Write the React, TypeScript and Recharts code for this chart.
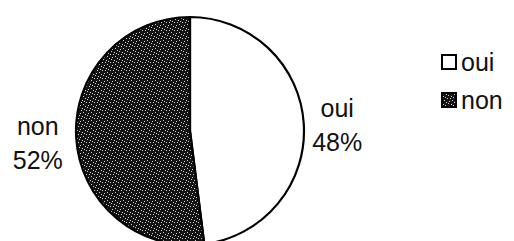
import { PieChart, Pie, Cell, Legend } from "recharts";

const categories = ["oui", "non"];
const shares = [48, 52];
const fills = ["#ffffff", "url(#speckle)"];

const chartData = categories.map((name, i) => ({ name, value: shares[i] }));

const RAD = Math.PI / 180;
const FONT = "'Liberation Sans', Arial, sans-serif";

// white specks on the dark slice, fixed positions inside an 8x8 tile
const specks = [
  [0, 1], [2, 4], [3, 0], [5, 2], [6, 6], [1, 6], [4, 5], [7, 3]
];

function renderLabel(props: any) {
  const { cx, cy, midAngle, outerRadius, name, percent } = props;
  const r = outerRadius + 36;
  const x = cx - 2.5 + r * Math.cos(-midAngle * RAD);
  const y = cy + r * Math.sin(-midAngle * RAD);
  return (
    <text x={x} y={y} textAnchor="middle" fontFamily={FONT} fontSize={25} fill="#111">
      <tspan x={x} y={y - 5}>{name}</tspan>
      <tspan x={x} y={y + 29}>{Math.round(percent * 100)}%</tspan>
    </text>
  );
}

// legend keeps the series order (recharts would sort it by name)
function LegendBox() {
  return (
    <div style={{ fontFamily: FONT, fontSize: 25, color: "#111" }}>
      {categories.map((name, i) => (
        <div key={name} style={{ display: "flex", alignItems: "center", height: 38 }}>
          <svg width={16} height={16} style={{ marginRight: 4 }}>
            <rect x={1} y={1} width={14} height={14} fill={fills[i]} stroke="#000" strokeWidth={2} />
          </svg>
          <span>{name}</span>
        </div>
      ))}
    </div>
  );
}

export default function App() {
  return (
    <div style={{ position: "absolute", left: 0, top: 0, background: "#fff" }}>
      <svg width={0} height={0} style={{ position: "absolute" }}>
        <defs>
          <pattern id="speckle" width={8} height={8} patternUnits="userSpaceOnUse">
            <rect width={8} height={8} fill="#141414" />
            {specks.map(([sx, sy], i) => (
              <rect key={i} x={sx} y={sy} width={1} height={1} fill="#cfcfcf" />
            ))}
          </pattern>
        </defs>
      </svg>
      <PieChart width={514} height={241}>
        <Pie
          data={chartData}
          dataKey="value"
          nameKey="name"
          cx={185}
          cy={126}
          outerRadius={114}
          startAngle={90}
          endAngle={-270}
          stroke="#000"
          strokeWidth={2.2}
          label={renderLabel}
          labelLine={false}
          isAnimationActive={false}
        >
          {chartData.map((d, i) => (
            <Cell key={d.name} fill={fills[i]} />
          ))}
        </Pie>
        <Legend
          layout="vertical"
          align="right"
          verticalAlign="top"
          content={<LegendBox />}
          wrapperStyle={{ left: 441, top: 43, width: 73 }}
        />
      </PieChart>
    </div>
  );
}
